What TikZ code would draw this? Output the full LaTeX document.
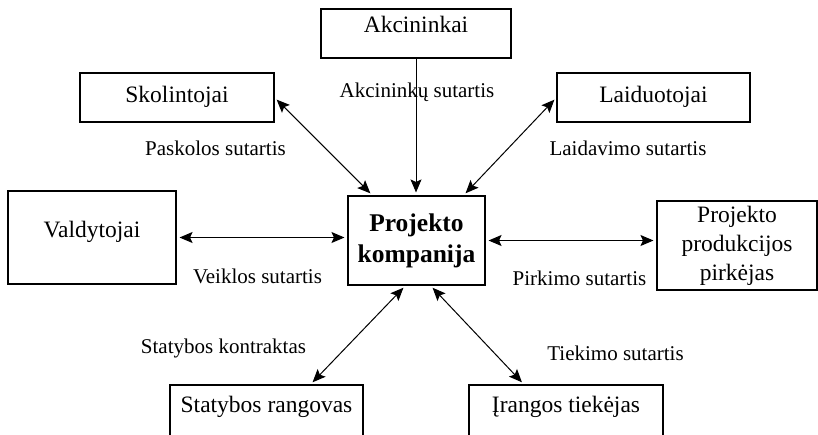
\documentclass[tikz,border=0pt]{standalone}
\usepackage{fontspec}
\setmainfont{Liberation Serif}
\usetikzlibrary{arrows.meta}

\tikzset{
  box/.style={draw, line width=1.1pt, inner sep=0pt, align=center,
    font=\fontsize{23.5}{29}\selectfont},
  lbl/.style={anchor=base, inner sep=0pt, font=\fontsize{21}{25}\selectfont},
  contract/.style={line width=1pt, shorten <=3pt, shorten >=3pt},
}

\begin{document}
\begin{tikzpicture}[x=1pt, y=-1pt, >={Stealth[length=13pt,width=11pt,inset=2.5pt]}]
            \useasboundingbox (0,0) rectangle (818,434);
            \clip (0,0) rectangle (818,434);

            \node (proj) at (416.5, 240.5) [box, minimum width=137pt, minimum height=89pt,
              font=\bfseries\fontsize{25.5}{31}\selectfont] {Projekto\\ kompanija};
            \node (akc) at (416, 33.5) [box, minimum width=190pt, text height=23pt, text depth=26pt] {Akcininkai};
            \node (skol) at (177, 97.5) [box, minimum width=194pt, text height=29pt, text depth=20pt] {Skolintojai};
            \node (laid) at (653.5, 97.5) [box, minimum width=193pt, text height=29pt, text depth=20pt] {Laiduotojai};
            \node (vald) at (92, 237.5) [box, minimum width=168pt, text height=46pt, text depth=47pt] {Valdytojai};
            \node (pirk) at (737, 245.5) [box, minimum width=160pt, minimum height=89pt] {Projekto\\ produkcijos\\ pirkėjas};
            \node (stat) at (266.5, 422.5) [box, minimum width=193pt, text height=27pt, text depth=48pt] {Statybos rangovas};
            \node (iran) at (566, 422.5) [box, minimum width=194pt, text height=27pt, text depth=48pt] {Įrangos tiekėjas};

            % sutartys
            \node (akcsut) at (417, 97) [lbl] {Akcininkų sutartis};
            \node (paskol) at (215.5, 155) [lbl] {Paskolos sutartis};
            \node (laidav) at (628, 155) [lbl] {Laidavimo sutartis};
            \node (veikl) at (257.5, 283) [lbl] {Veiklos sutartis};
            \node (pirkim) at (579.5, 285) [lbl] {Pirkimo sutartis};
            \node (statkon) at (223.5, 353) [lbl] {Statybos kontraktas};
            \node (tiekim) at (615.5, 360) [lbl] {Tiekimo sutartis};

            \draw[->, contract, shorten <=0pt] (akc.south) -- (akc.south |- proj.north);
            \draw[<->, contract] (skol.east) -- ([xshift=-44pt]proj.north);
            \draw[<->, contract] (laid.west) -- ([xshift=47pt]proj.north);
            \draw[<->, contract] (vald.east) -- (vald.east -| proj.west);
            \draw[<->, contract] (proj.east) -- (proj.east -| pirk.west);
            \draw[<->, contract] ([xshift=-11pt]proj.south) -- ([xshift=44pt]stat.north);
            \draw[<->, contract] ([xshift=14pt]proj.south) -- ([xshift=-42pt]iran.north);
        \end{tikzpicture}
\end{document}
